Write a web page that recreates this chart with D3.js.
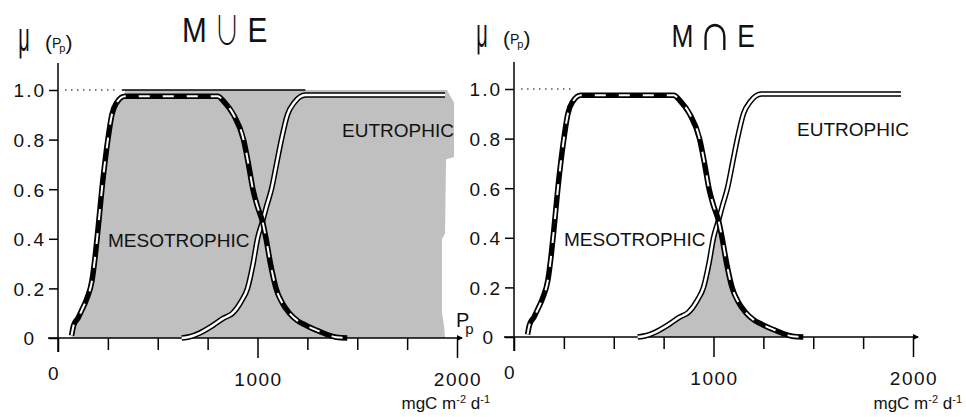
<!DOCTYPE html>
<html><head><meta charset="utf-8">
<script src="https://cdn.jsdelivr.net/npm/d3@7"></script>
<style>
html,body{margin:0;padding:0;background:#fff;}
svg{display:block;}
text{font-family:"Liberation Sans",Arial,sans-serif;fill:#111;}
</style></head>
<body>
<svg id="chart" width="966" height="417"></svg>
<script>
// ---- data ----
const xTicks = [0, 250, 500, 750, 1000, 1250, 1500, 1750, 2000];
const xLabelValues = [0, 1000, 2000];
const xLabels = ["0", "1000", "2000"];
const yTicks = [0, 0.2, 0.4, 0.6, 0.8, 1.0];
const yLabels = ["0", "0.2", "0.4", "0.6", "0.8", "1.0"];

// mesotrophic membership (x in mgC m-2 d-1, mu)
const mesoX  = [68, 78, 100, 118, 145, 170, 185, 197, 208, 220, 234, 250, 270, 295, 335, 800, 835, 880, 930, 955, 977, 1000, 1025, 1043, 1065, 1093, 1125, 1160, 1200, 1245, 1300, 1345, 1395, 1450];
const mesoMu = [0.01, 0.05, 0.08, 0.11, 0.16, 0.23, 0.32, 0.41, 0.5, 0.6, 0.7, 0.8, 0.9, 0.95, 0.975, 0.975, 0.95, 0.9, 0.8, 0.7, 0.6, 0.53, 0.47, 0.4, 0.3, 0.2, 0.14, 0.1, 0.07, 0.05, 0.03, 0.015, 0.003, 0];
// eutrophic membership
const eutroX  = [620, 660, 710, 775, 830, 875, 920, 950, 978, 1000, 1025, 1045, 1070, 1095, 1120, 1150, 1185, 1240, 1940];
const eutroMu = [0, 0.005, 0.02, 0.05, 0.08, 0.1, 0.15, 0.2, 0.3, 0.4, 0.47, 0.53, 0.6, 0.7, 0.8, 0.9, 0.95, 0.98, 0.98];
// union fill: top level and ragged right edge (x, mu)
const unionTop = 1.0;
const unionEdgeX  = [1950, 1985, 1985, 1945, 1940, 1925, 1925, 1935, 1940];
const unionEdgeMu = [1.0, 0.95, 0.73, 0.72, 0.42, 0.4, 0.1, 0.05, 0];
const crossX = 1025;

const meso = mesoX.map((x, i) => [x, mesoMu[i]]);
const eutro = eutroX.map((x, i) => [x, eutroMu[i]]);
const unionEdge = unionEdgeX.map((x, i) => [x, unionEdgeMu[i]]);

const svg = d3.select("#chart");

function glyph(g, txt, cx, base, size, sx, sy, fam, wt) {
  g.append("text").attr("text-anchor", "middle")
    .attr("transform", `translate(${cx},${base}) scale(${sx},${sy})`)
    .style("font-size", size + "px").style("font-family", fam)
    .style("font-weight", wt).text(txt);
}

function drawPanel(cfg) {
  const x = d3.scaleLinear().domain([0, 2000]).range([cfg.x0, cfg.x0 + 399]);
  const y = d3.scaleLinear().domain([0, 1]).range([cfg.y0, cfg.y0 - 248]);
  const g = svg.append("g");
  const line = d3.line().x(d => x(d[0])).y(d => y(d[1])).curve(d3.curveMonotoneX);
  const poly = d3.line().x(d => x(d[0])).y(d => y(d[1])).curve(d3.curveLinear);

  // fills
  if (cfg.type === "union") {
    const rise = meso.filter(d => d[0] <= 335);
    const pts = rise.concat([[335, unionTop]], unionEdge, [[mesoX[0], 0]]);
    g.append("path").attr("d", poly(pts) + "Z").attr("fill", "#c0c0c0");
    g.append("line").attr("x1", x(320)).attr("x2", x(1240))
      .attr("y1", y(unionTop)).attr("y2", y(unionTop))
      .attr("stroke", "#000").attr("stroke-width", 1.5);
  } else {
    const pts = eutro.filter(d => d[0] <= crossX).concat(meso.filter(d => d[0] > crossX));
    const area = d3.area().x(d => x(d[0])).y0(y(0)).y1(d => y(d[1])).curve(d3.curveMonotoneX);
    g.append("path").attr("d", area(pts)).attr("fill", "#c0c0c0");
  }

  // y axis
  const ya = g.append("g").attr("transform", `translate(${x(0)},0)`)
    .call(d3.axisLeft(y).tickValues(yTicks).tickSize(9).tickPadding(5)
      .tickFormat((d, i) => yLabels[i]));
  ya.select(".domain").remove();
  ya.selectAll("line").attr("stroke", "#000").attr("stroke-width", 1.5);
  ya.selectAll("text").style("font-size", "19px").style("letter-spacing", "2px")
    .attr("dy", "0.36em")
    .attr("x", d => d === 0 ? cfg.zeroX : -12);
  g.append("line").attr("x1", x(0)).attr("x2", x(0))
    .attr("y1", y(0) + 14).attr("y2", cfg.y0 - 275)
    .attr("stroke", "#000").attr("stroke-width", 1.5);

  // x axis
  const xa = g.append("g").attr("transform", `translate(0,${y(0)})`)
    .call(d3.axisBottom(x).tickValues(xTicks).tickSize(12).tickFormat(""));
  xa.select(".domain").remove();
  xa.selectAll("line").attr("stroke", "#000").attr("stroke-width", 1.5)
    .attr("y2", d => d === 0 ? 14 : (d === 1000 || d === 2000 ? 20 : 12));
  g.append("line").attr("x1", x(0) - 10).attr("x2", x(2000) + 5)
    .attr("y1", y(0)).attr("y2", y(0)).attr("stroke", "#000").attr("stroke-width", 1.5);
  g.append("path")
    .attr("d", `M${x(2000)},${y(0) - 3}L${x(2000) + 6},${y(0)}L${x(2000)},${y(0) + 3}Z`)
    .attr("fill", "#000");
  g.selectAll("text.xl").data(xLabelValues).join("text").attr("class", "xl")
    .attr("x", d => x(d) + (d === 0 ? -4 : 1))
    .attr("y", d => y(0) + (d === 0 ? 42 : 48))
    .attr("text-anchor", "middle")
    .style("font-size", "19px").style("letter-spacing", "1.5px")
    .text((d, i) => xLabels[i]);

  // dotted reference at 1.0
  g.append("line").attr("x1", x(0) + 7).attr("x2", x(0) + 58)
    .attr("y1", y(1)).attr("y2", y(1))
    .attr("stroke", "#000").attr("stroke-width", 1.2).attr("stroke-dasharray", "1.5,4.5");

  // eutrophic: double line
  g.append("path").attr("d", line(eutro)).attr("fill", "none")
    .attr("stroke", "#000").attr("stroke-width", 5.5);
  g.append("path").attr("d", line(eutro)).attr("fill", "none")
    .attr("stroke", "#fff").attr("stroke-width", 2.5);
  // mesotrophic: thick black with white dashes
  g.append("path").attr("d", line(meso)).attr("fill", "none")
    .attr("stroke", "#000").attr("stroke-width", 5.5);
  g.append("path").attr("d", line(meso)).attr("fill", "none")
    .attr("stroke", "#fff").attr("stroke-width", 2).attr("stroke-dasharray", "11,13");

  // labels
  g.append("text").attr("x", x(0) + 50).attr("y", y(0.4) + 8)
    .style("font-size", "19px").text("MESOTROPHIC");
  g.append("text").attr("x", cfg.eutroLabelX).attr("y", y(0.8) - 3)
    .style("font-size", "19px").text("EUTROPHIC");

  // mu (Pp)
  g.append("text").attr("text-anchor", "middle")
    .attr("transform", `translate(${cfg.muX},${cfg.muY}) scale(0.5,1)`)
    .style("font-size", "40px").text("μ");
  const pl = g.append("text").attr("x", cfg.muX + 21).attr("y", cfg.muY - 1).style("font-size", "21px");
  pl.append("tspan").text("(");
  pl.append("tspan").style("font-size", "14px").attr("dy", -2).text("P");
  pl.append("tspan").style("font-size", "11px").attr("dx", -2).attr("dy", 4).text("p");
  pl.append("tspan").attr("dy", -2).text(")");

  // title: M, set symbol, E
  const t = cfg.title;
  const fam = "'Liberation Sans',Arial,sans-serif";
  glyph(g, t.chars[0], t.cx[0], t.base, t.size, 0.85, 1, fam, 400);
  glyph(g, t.chars[1], t.cx[1], t.base + t.symDy, t.symSize, t.symSx, t.symSy, t.symFam, t.symWt);
  glyph(g, t.chars[2], t.cx[2], t.base, t.size, 0.85, 1, fam, 400);

  // axis unit
  const u = g.append("text").attr("x", cfg.unitX).attr("y", 409).attr("text-anchor", "end")
    .style("font-size", "17px");
  u.append("tspan").text("mgC m");
  u.append("tspan").attr("dy", -6).style("font-size", "11px").text("-2");
  u.append("tspan").attr("dy", 6).text(" d");
  u.append("tspan").attr("dy", -6).style("font-size", "11px").text("-1");

  return { x, y, g };
}

const L = drawPanel({ type: "union", x0: 58, y0: 338, eutroLabelX: 342, muX: 24, muY: 51, zeroX: -22,
  title: { chars: ["M", "∪", "E"], cx: [194.5, 227, 257.5], base: 42, size: 35, symDy: 2, symSize: 34, symSx: 0.75, symSy: 1.15,
           symFam: "'Noto Sans CJK SC','DejaVu Sans',sans-serif", symWt: 300 },
  unitX: 490 });
const R = drawPanel({ type: "inter", x0: 514, y0: 337, eutroLabelX: 797, muX: 482, muY: 47, zeroX: -19,
  title: { chars: ["M", "∩", "E"], cx: [682.5, 715, 746], base: 47, size: 31, symDy: 3, symSize: 52, symSx: 0.9, symSy: 1,
           symFam: "'DejaVu Sans'", symWt: 200 },
  unitX: 962 });

// Pp label at end of left x axis
const pp = svg.append("text").attr("x", L.x(2000) - 1).attr("y", L.y(0) - 11).style("font-size", "20px");
pp.append("tspan").text("P");
pp.append("tspan").attr("dx", -4).attr("dy", 7).style("font-size", "15px").text("p");
</script>
</body></html>
